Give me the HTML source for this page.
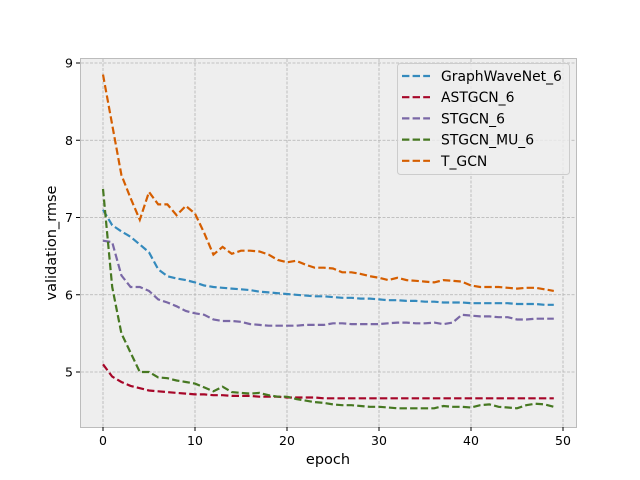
<!DOCTYPE html>
<html><head><meta charset="utf-8"><style>
body{margin:0;background:#fff;}
svg{display:block;font-family:"DejaVu Sans","Liberation Sans",sans-serif;}
</style></head><body>
<svg id="chart" width="640" height="480">
<rect x="80.5" y="58.5" width="496" height="369" fill="#eeeeee" stroke="#bcbcbc"/>
<g id="grid"></g><g id="ticks"></g><g id="lines"></g>
<text x="328" y="464" font-size="14.5" text-anchor="middle" fill="#000">epoch</text>
<text transform="translate(56,243) rotate(-90)" font-size="14.5" text-anchor="middle" fill="#000">validation_rmse</text>
<g id="legend"></g>
</svg>
<script>
const epochs=[];for(let i=0;i<50;i++)epochs.push(i);
const seriesNames=["GraphWaveNet_6","ASTGCN_6","STGCN_6","STGCN_MU_6","T_GCN"];
const colors=["#348ABD","#A60628","#7A68A6","#467821","#D55E00"];
const graphWaveNet=[7.1,6.9,6.82,6.75,6.65,6.55,6.33,6.24,6.21,6.19,6.16,6.12,6.1,6.09,6.08,6.07,6.06,6.04,6.03,6.02,6.01,6.0,5.99,5.98,5.98,5.97,5.96,5.96,5.95,5.95,5.94,5.93,5.93,5.92,5.92,5.91,5.91,5.9,5.9,5.9,5.89,5.89,5.89,5.89,5.89,5.88,5.88,5.88,5.87,5.87];
const astgcn=[5.1,4.94,4.87,4.82,4.79,4.76,4.75,4.74,4.73,4.72,4.71,4.71,4.7,4.7,4.69,4.69,4.69,4.68,4.68,4.68,4.67,4.67,4.67,4.67,4.66,4.66,4.66,4.66,4.66,4.66,4.66,4.66,4.66,4.66,4.66,4.66,4.66,4.66,4.66,4.66,4.66,4.66,4.66,4.66,4.66,4.66,4.66,4.66,4.66,4.66];
const stgcn=[6.7,6.68,6.25,6.1,6.1,6.05,5.94,5.9,5.85,5.79,5.76,5.74,5.68,5.66,5.66,5.65,5.62,5.61,5.6,5.6,5.6,5.6,5.61,5.61,5.61,5.63,5.63,5.62,5.62,5.62,5.62,5.63,5.64,5.64,5.63,5.63,5.64,5.62,5.64,5.74,5.73,5.72,5.72,5.71,5.71,5.68,5.68,5.69,5.69,5.69];
const stgcnMu=[7.37,6.1,5.5,5.25,5.0,5.0,4.93,4.92,4.89,4.87,4.85,4.8,4.75,4.81,4.74,4.73,4.72,4.73,4.7,4.68,4.68,4.65,4.63,4.61,4.6,4.58,4.57,4.57,4.56,4.55,4.55,4.54,4.53,4.53,4.53,4.53,4.53,4.56,4.55,4.55,4.54,4.57,4.58,4.55,4.54,4.53,4.57,4.59,4.58,4.55];
const tgcn=[8.85,8.2,7.55,7.25,6.97,7.33,7.17,7.17,7.03,7.15,7.05,6.8,6.52,6.62,6.53,6.57,6.57,6.56,6.52,6.45,6.42,6.44,6.39,6.35,6.35,6.34,6.29,6.29,6.27,6.24,6.22,6.19,6.22,6.19,6.18,6.17,6.16,6.19,6.18,6.17,6.12,6.1,6.1,6.1,6.09,6.08,6.09,6.09,6.07,6.05];
const xTicks=[0,10,20,30,40,50];
const yTicks=[5,6,7,8,9];
const allSeries=[graphWaveNet,astgcn,stgcn,stgcnMu,tgcn];
const NS="http://www.w3.org/2000/svg";
function X(v){return 103+v*9.2;}
function Y(v){return 63+(9-v)*77.25;}
function mk(tag,attrs,parent){const e=document.createElementNS(NS,tag);for(const k in attrs)e.setAttribute(k,attrs[k]);parent.appendChild(e);return e;}
const grid=document.getElementById('grid'),ticks=document.getElementById('ticks'),lines=document.getElementById('lines'),legend=document.getElementById('legend');
xTicks.forEach(t=>{
 const g=mk('line',{x1:X(t),x2:X(t),y1:59,y2:427,stroke:'#b2b2b2','stroke-width':0.8,'stroke-dasharray':'3,1.5'},grid);
 
 
 const tk=mk('line',{x1:X(t),x2:X(t),y1:427,y2:431,stroke:'#000','stroke-width':1},ticks);
 
 
 const tx=mk('text',{x:X(t),y:445,'font-size':12.5,'text-anchor':'middle',fill:'#000'},ticks);tx.textContent=t;
 
 
});
yTicks.forEach(t=>{
 const g=mk('line',{x1:81,x2:576,y1:Y(t),y2:Y(t),stroke:'#b2b2b2','stroke-width':0.8,'stroke-dasharray':'3,1.5'},grid);
 
 
 const tk=mk('line',{x1:76,x2:80,y1:Y(t),y2:Y(t),stroke:'#000','stroke-width':1},ticks);
 
 
 const tx=mk('text',{x:73,y:Y(t)+4.5,'font-size':12.5,'text-anchor':'end',fill:'#000'},ticks);tx.textContent=t;
 
 
});
allSeries.forEach((s,i)=>{
 const d=s.map((v,j)=>(j?'L':'M')+X(epochs[j]).toFixed(1)+','+Y(v).toFixed(1)).join('');
 const p=mk('path',{d:d,fill:'none',stroke:colors[i],'stroke-width':2.2,'stroke-dasharray':'7.4,3.2'},lines);
 
 
});
const box=mk('rect',{x:397.5,y:63.5,width:172,height:111,rx:3,fill:'#eeeeee','fill-opacity':0.8,stroke:'#cccccc'},legend);


seriesNames.forEach((n,i)=>{
 const y=76+i*21.2;
 const l=mk('line',{x1:402,x2:430,y1:y,y2:y,stroke:colors[i],'stroke-width':2.2,'stroke-dasharray':'7.4,3.2'},legend);
 
 
 const t=mk('text',{x:441,y:y+5,'font-size':13.9,fill:'#000'},legend);t.textContent=n;
 
 
});
</script>
</body></html>
